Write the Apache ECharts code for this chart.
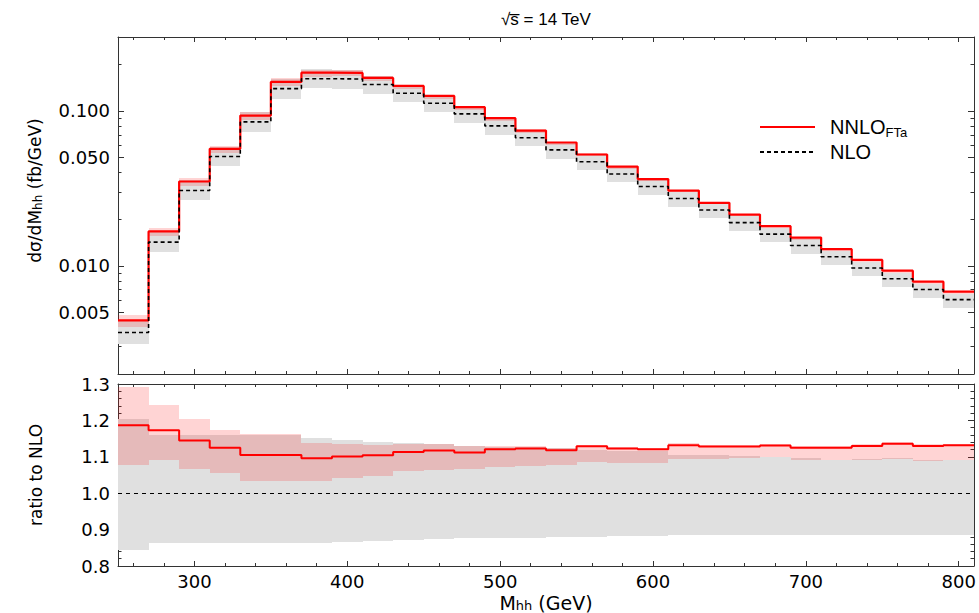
<!DOCTYPE html>
<html>
<head>
<meta charset="utf-8">
<script src="https://cdn.jsdelivr.net/npm/echarts@6/dist/echarts.min.js"></script>
<style>
html,body{margin:0;padding:0;background:#fff;}
#c{width:979px;height:613px;}
</style>
</head>
<body>
<div id="c"></div>
<script>
// ---- data ----
const binEdges = [250,270,290,310,330,350,370,390,410,430,450,470,490,510,530,550,570,590,610,630,650,670,690,710,730,750,770,790,810];
const xMajorTicks = [300,400,500,600,700,800];
const xMinorTicks = [260,280,320,340,360,380,420,440,460,480,520,540,560,580,620,640,660,680,720,740,760,780];
const topMajorTicks = [0.005,0.01,0.05,0.1];
const topMinorTicks = [0.003,0.004,0.006,0.007,0.008,0.009,0.02,0.03,0.04,0.06,0.07,0.08,0.09,0.2];

// dsigma/dM (fb/GeV)
const nnlo = [0.00444,0.01665,0.0350,0.0569,0.0933,0.1538,0.1766,0.1758,0.1633,0.1449,0.1250,0.1057,0.0897,0.0746,0.0625,0.0523,0.0437,0.0363,0.0306,0.0255,0.0214,0.0180,0.0152,0.0128,0.0109,0.00929,0.00789,0.00680];
const nlo  = [0.00371,0.01422,0.0306,0.0507,0.0849,0.1393,0.1614,0.1606,0.1480,0.1300,0.1121,0.0956,0.0800,0.0671,0.0560,0.0469,0.0391,0.0325,0.0272,0.0229,0.0190,0.0160,0.01352,0.01143,0.00967,0.00824,0.00703,0.00604];

// ratio to NLO
const ratio  = [1.187,1.173,1.145,1.125,1.105,1.105,1.096,1.101,1.104,1.113,1.117,1.112,1.121,1.123,1.118,1.129,1.123,1.121,1.132,1.128,1.128,1.131,1.125,1.125,1.130,1.136,1.130,1.132];
const nnloBandHi = [1.293,1.241,1.205,1.175,1.162,1.162,1.138,1.136,1.133,1.136,1.134,1.129,1.131,1.131,1.1245,1.132,1.127,1.1245,1.137,1.132,1.132,1.135,1.130,1.130,1.134,1.141,1.134,1.136];
const nnloBandLo = [1.0785,1.090,1.067,1.0545,1.033,1.033,1.033,1.042,1.048,1.060,1.063,1.067,1.072,1.076,1.077,1.085,1.083,1.084,1.094,1.094,1.096,1.100,1.092,1.090,1.092,1.094,1.089,1.090];
const nloBandHi  = [1.2025,1.161,1.161,1.161,1.161,1.161,1.151,1.145,1.140,1.137,1.134,1.129,1.128,1.127,1.123,1.120,1.117,1.115,1.106,1.106,1.103,1.100,1.096,1.092,1.094,1.096,1.090,1.092];
const nloBandLo  = [0.844,0.8645,0.8645,0.8645,0.863,0.863,0.8645,0.866,0.868,0.872,0.8755,0.876,0.877,0.878,0.879,0.880,0.882,0.883,0.884,0.885,0.886,0.886,0.886,0.886,0.886,0.886,0.886,0.886];

// ---- helpers ----
function stepData(vals){
  const d = vals.map((v,i)=>[binEdges[i], v]);
  d.push([binEdges[vals.length], vals[vals.length-1]]);
  return d;
}
function bandData(lo, hi, scale){
  return lo.map((l,i)=>[binEdges[i], binEdges[i+1], scale ? l*scale[i] : l, scale ? hi[i]*scale[i] : hi[i]]);
}
function band(name, data, color, xi, yi, z){
  return {
    type:'custom', name:name, xAxisIndex:xi, yAxisIndex:yi, silent:true, z:z,
    data:data, encode:{x:[0,1], y:[2,3]},
    renderItem:function(params, api){
      const p0 = api.coord([api.value(0), api.value(3)]);
      const p1 = api.coord([api.value(1), api.value(2)]);
      const x0 = Math.round(p0[0]), x1 = Math.round(p1[0]);
      const y0 = Math.round(p0[1]), y1 = Math.round(p1[1]);
      return {type:'rect', shape:{x:x0, y:y0, width:x1-x0, height:y1-y0}, style:{fill:color}};
    }
  };
}

const AX = '#333';
const tickFont = {color:'#000', fontFamily:'DejaVu Sans', fontSize:18};
const subRich = {
  a:{fontFamily:'DejaVu Sans', fontSize:17, color:'#000', lineHeight:19},
  s:{fontFamily:'DejaVu Sans', fontSize:12, color:'#000', verticalAlign:'bottom', lineHeight:19}
};
const subRichX = {
  a:{fontFamily:'DejaVu Sans', fontSize:19, color:'#000', lineHeight:19},
  s:{fontFamily:'DejaVu Sans', fontSize:13, color:'#000', verticalAlign:'bottom', lineHeight:19}
};

function mkX(grid, pos, ticks, len, line, label, extra){
  return Object.assign({
    type:'value', gridIndex:grid, position:pos, min:250, max:810,
    axisLine:{show:line, onZero:false, lineStyle:{color:AX, width:1}},
    axisTick:{show:true, inside:true, length:len, customValues:ticks, lineStyle:{color:AX, width:1}},
    axisLabel:Object.assign({show:label, customValues:ticks, margin:6}, tickFont),
    splitLine:{show:false}
  }, extra || {});
}
function mkYTop(pos, ticks, len, line, label, extra){
  return Object.assign({
    type:'log', logBase:10, gridIndex:0, position:pos, min:0.002, max:0.3,
    axisLine:{show:line, onZero:false, lineStyle:{color:AX, width:1}},
    axisTick:{show:true, inside:true, length:len, customValues:ticks, lineStyle:{color:AX, width:1}},
    axisLabel:Object.assign({show:label, customValues:ticks, margin:8, formatter:function(v){return Number(v).toFixed(3);}}, tickFont),
    splitLine:{show:false}, minorTick:{show:false}
  }, extra || {});
}
function mkYRatio(pos, label, extra){
  return Object.assign({
    type:'value', gridIndex:1, position:pos, min:0.8, max:1.3, interval:0.1,
    axisLine:{show:true, onZero:false, lineStyle:{color:AX, width:1}},
    axisTick:{show:true, inside:true, length:6, lineStyle:{color:AX, width:1}},
    minorTick:{show:true, splitNumber:5, length:3.5, lineStyle:{color:AX, width:1}},
    axisLabel:Object.assign({show:label, margin:8, formatter:function(v){return Number(v).toFixed(1);}}, tickFont),
    splitLine:{show:false}, minorSplitLine:{show:false}
  }, extra || {});
}

const option = {
  animation:false,
  title:{
    text:'\u221As\u0305 = 14 TeV', left:496, top:6,
    textStyle:{fontFamily:'Liberation Sans', fontSize:17, fontWeight:'normal', color:'#000'}
  },
  legend:{
    orient:'vertical', left:759, top:117, padding:0, itemWidth:55, itemHeight:14, itemGap:3,
    selectedMode:false,
    itemStyle:{opacity:0},
    data:['NNLO','NLO'],
    formatter:function(n){ return n === 'NNLO' ? '{a|NNLO}{s|FTa}' : '{a|NLO}'; },
    textStyle:{rich:{
      a:{fontFamily:'Liberation Sans', fontSize:20, color:'#000', padding:[0,0,0,10], lineHeight:24},
      s:{fontFamily:'Liberation Sans', fontSize:13, color:'#000', verticalAlign:'bottom', lineHeight:24}
    }}
  },
  grid:[
    {left:118, right:5, top:37, height:337, containLabel:false, outerBoundsMode:'none'},
    {left:118, right:5, top:384, height:182, containLabel:false, outerBoundsMode:'none'}
  ],
  xAxis:[
    mkX(0,'bottom',xMajorTicks,5,true,false),
    mkX(0,'bottom',xMinorTicks,3,false,false),
    mkX(0,'top',xMajorTicks,5,true,false),
    mkX(0,'top',xMinorTicks,3,false,false),
    mkX(1,'bottom',xMajorTicks,5,true,true,{
      name:'{a|M}{s|hh}{a| (GeV)}', nameLocation:'middle', nameGap:27,
      nameTextStyle:{rich:subRichX}
    }),
    mkX(1,'bottom',xMinorTicks,3,false,false),
    mkX(1,'top',xMajorTicks,5,true,false),
    mkX(1,'top',xMinorTicks,3,false,false)
  ],
  yAxis:[
    mkYTop('left',topMajorTicks,6,true,true,{
      name:'{a|d\u03C3/dM}{s|hh}{a| (fb/GeV)}', nameLocation:'middle', nameGap:74, nameRotate:90,
      nameTextStyle:{rich:subRich, padding:[0,0,0,30]}
    }),
    mkYTop('left',topMinorTicks,3.5,false,false),
    mkYTop('right',topMajorTicks,6,true,false),
    mkYTop('right',topMinorTicks,3.5,false,false),
    mkYRatio('left',true,{
      name:'ratio to NLO', nameLocation:'middle', nameGap:74, nameRotate:90,
      nameTextStyle:{fontFamily:'DejaVu Sans', fontSize:17, color:'#000'}
    }),
    mkYRatio('right',false)
  ],
  series:[
    band('NLO band', bandData(nloBandLo, nloBandHi, nlo), '#e0e0e0', 0, 0, 1),
    band('NNLO band', bandData(nnloBandLo, nnloBandHi, nlo), 'rgba(255,0,0,0.17)', 0, 0, 2),
    {type:'line', name:'NNLO', xAxisIndex:0, yAxisIndex:0, step:'end', symbol:'none', z:5,
     data:stepData(nnlo), lineStyle:{color:'#ff0000', width:2.2}, itemStyle:{color:'#ff0000'}},
    {type:'line', name:'NLO', xAxisIndex:0, yAxisIndex:0, step:'end', symbol:'none', z:6,
     data:stepData(nlo), lineStyle:{color:'#000', width:1.6, type:[4,3]}, itemStyle:{color:'#000'}},
    band('NLO band ratio', bandData(nloBandLo, nloBandHi, null), '#e0e0e0', 4, 4, 1),
    band('NNLO band ratio', bandData(nnloBandLo, nnloBandHi, null), 'rgba(255,0,0,0.17)', 4, 4, 2),
    {type:'line', name:'NNLO ratio', xAxisIndex:4, yAxisIndex:4, step:'end', symbol:'none', z:5,
     data:stepData(ratio), lineStyle:{color:'#ff0000', width:2}, itemStyle:{color:'#ff0000'},
     markLine:{silent:true, symbol:'none', data:[{yAxis:1}], label:{show:false},
       lineStyle:{color:'#000', width:1.2, type:[4,4]}}}
  ]
};

const chart = echarts.init(document.getElementById('c'), null, {renderer:'svg'});
chart.setOption(option);
</script>
</body>
</html>
